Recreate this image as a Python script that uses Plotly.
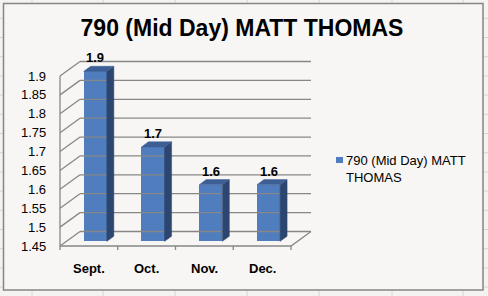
import plotly.graph_objects as go

# ---------------- data ----------------
categories = ["Sept.", "Oct.", "Nov.", "Dec."]
values = [1.9, 1.7, 1.6, 1.6]
series_name = "790 (Mid Day) MATT THOMAS"
y_ticks = [1.45, 1.5, 1.55, 1.6, 1.65, 1.7, 1.75, 1.8, 1.85, 1.9]
y_tick_text = ["1.45", "1.5", "1.55", "1.6", "1.65", "1.7", "1.75", "1.8", "1.85", "1.9"]
title_text = "790 (Mid Day) MATT THOMAS"

# ---------------- layout geometry ----------------
W, H = 488, 296
PX_X = 57.75          # px per category unit
PX_Y = 170 / 0.45     # px per value unit
X0 = -0.5 - 60 / PX_X
X1 = X0 + W / PX_X
YMIN = y_ticks[0]
YTOP = YMIN + 246 / PX_Y
YBOT = YMIN - (H - 246) / PX_Y

DX = 20 / PX_X        # depth vector of the 3D box
DY = 14.5 / PX_Y
F = 0.32              # front of bars (fraction of depth)
D = 0.35              # depth of bars
BW = 0.40             # bar width

FRONT = "#4F7DBE"
SIDE = "#2C4670"
TOP = "#3D5F95"
GRID = "#878787"
FONT = "Liberation Sans, Arial, sans-serif"

def px2x(px):
    return X0 + px / PX_X

def py2y(py):
    return YTOP - py / PX_Y

fig = go.Figure()

# ---- 3D frame: back wall gridlines, side wall diagonals, floor ----
xl_front = -0.5
xr_front = len(categories) - 0.5
frame_x, frame_y = [], []
for v in y_ticks:
    frame_x += [xl_front + DX, xr_front + DX, None, xl_front, xl_front + DX, None]
    frame_y += [v + DY, v + DY, None, v, v + DY, None]
frame_x += [xl_front, xl_front, None, xl_front, xr_front, xr_front + DX, None]
frame_y += [y_ticks[0], y_ticks[-1], None, YMIN, YMIN, YMIN + DY, None]
for k in range(len(categories) + 1):
    frame_x += [xl_front + k, xl_front + k, None]
    frame_y += [YMIN, YMIN - 4 / PX_Y, None]
fig.add_trace(go.Scatter(x=frame_x, y=frame_y, mode="lines",
                         line=dict(color=GRID, width=1.3),
                         hoverinfo="skip", showlegend=False))

# ---- bars: front faces ----
xc = [i + F * DX for i in range(len(categories))]
fig.add_trace(go.Bar(
    x=xc, y=[v - YMIN for v in values], base=YMIN + F * DY,
    width=BW, marker=dict(color=FRONT, line=dict(width=0)),
    name=series_name, showlegend=False, hoverinfo="skip"))

# ---- bars: side and top faces ----
for i, v in enumerate(values):
    xr = xc[i] + BW / 2
    xl = xc[i] - BW / 2
    yb = YMIN + F * DY
    yt = v + F * DY
    fig.add_trace(go.Scatter(
        x=[xr, xr + D * DX, xr + D * DX, xr, xr],
        y=[yb, yb + D * DY, yt + D * DY, yt, yb],
        fill="toself", fillcolor=SIDE, mode="lines",
        line=dict(color=SIDE, width=0.5), hoverinfo="skip", showlegend=False))
    fig.add_trace(go.Scatter(
        x=[xl, xr, xr + D * DX, xl + D * DX, xl],
        y=[yt, yt, yt + D * DY, yt + D * DY, yt],
        fill="toself", fillcolor=TOP, mode="lines",
        line=dict(color=TOP, width=0.5), hoverinfo="skip", showlegend=False))
    fig.add_annotation(x=xc[i], y=v + (F + D) * DY, text=f"<b>{v:g}</b>",
                       showarrow=False, yanchor="bottom", xanchor="center",
                       yshift=-1, font=dict(family=FONT, size=13, color="#000"))

# ---- category labels ----
for i, c in enumerate(categories):
    fig.add_annotation(x=i, y=py2y(268), text=f"<b>{c}</b>", showarrow=False,
                       xanchor="center", yanchor="middle",
                       font=dict(family=FONT, size=13, color="#000"))

# ---- value axis labels ----
for v, t in zip(y_ticks, y_tick_text):
    fig.add_annotation(x=px2x(48), y=v, text=t, showarrow=False,
                       xanchor="right", yanchor="middle",
                       font=dict(family=FONT, size=13, color="#000"))

# ---- legend (manual) ----
fig.add_annotation(x=px2x(344), y=py2y(151), text="790 (Mid Day) MATT<br>THOMAS",
                   showarrow=False, xanchor="left", yanchor="top", align="left",
                   font=dict(family=FONT, size=13, color="#000"))

shapes = []
# spreadsheet cell grid behind the chart
for gx in [32, 103, 175, 247, 319, 392, 463]:
    shapes.append(dict(type="line", xref="paper", yref="paper",
                       x0=gx / W, x1=gx / W, y0=0, y1=1,
                       line=dict(color="#D6D6D6", width=1), layer="below"))
gy = 18.3
while gy < H:
    shapes.append(dict(type="line", xref="paper", yref="paper",
                       x0=0, x1=1, y0=1 - gy / H, y1=1 - gy / H,
                       line=dict(color="#D6D6D6", width=1), layer="below"))
    gy += 19.2
# chart area
shapes.append(dict(type="rect", xref="paper", yref="paper",
                   x0=3.5 / W, x1=483 / W, y0=1 - 290 / H, y1=1 - 3.5 / H,
                   fillcolor="#F7F6F4", line=dict(color="#858585", width=1.5),
                   layer="below"))
# legend key
shapes.append(dict(type="rect", xref="x", yref="y",
                   x0=px2x(336), x1=px2x(343), y0=py2y(163), y1=py2y(157),
                   fillcolor=FRONT, line=dict(width=0)))

fig.update_layout(
    width=W, height=H,
    margin=dict(l=0, r=0, t=0, b=0),
    paper_bgcolor="#F4F3F1", plot_bgcolor="rgba(0,0,0,0)",
    title=dict(text=f"<b>{title_text}</b>", x=242 / W, xanchor="center",
               y=1 - 28 / H, yanchor="middle",
               font=dict(family=FONT, size=23, color="#000")),
    xaxis=dict(range=[X0, X1], visible=False, fixedrange=True),
    yaxis=dict(range=[YBOT, YTOP], visible=False, fixedrange=True),
    shapes=shapes,
    showlegend=False,
    bargap=0,
)

fig.write_html("out.html")
